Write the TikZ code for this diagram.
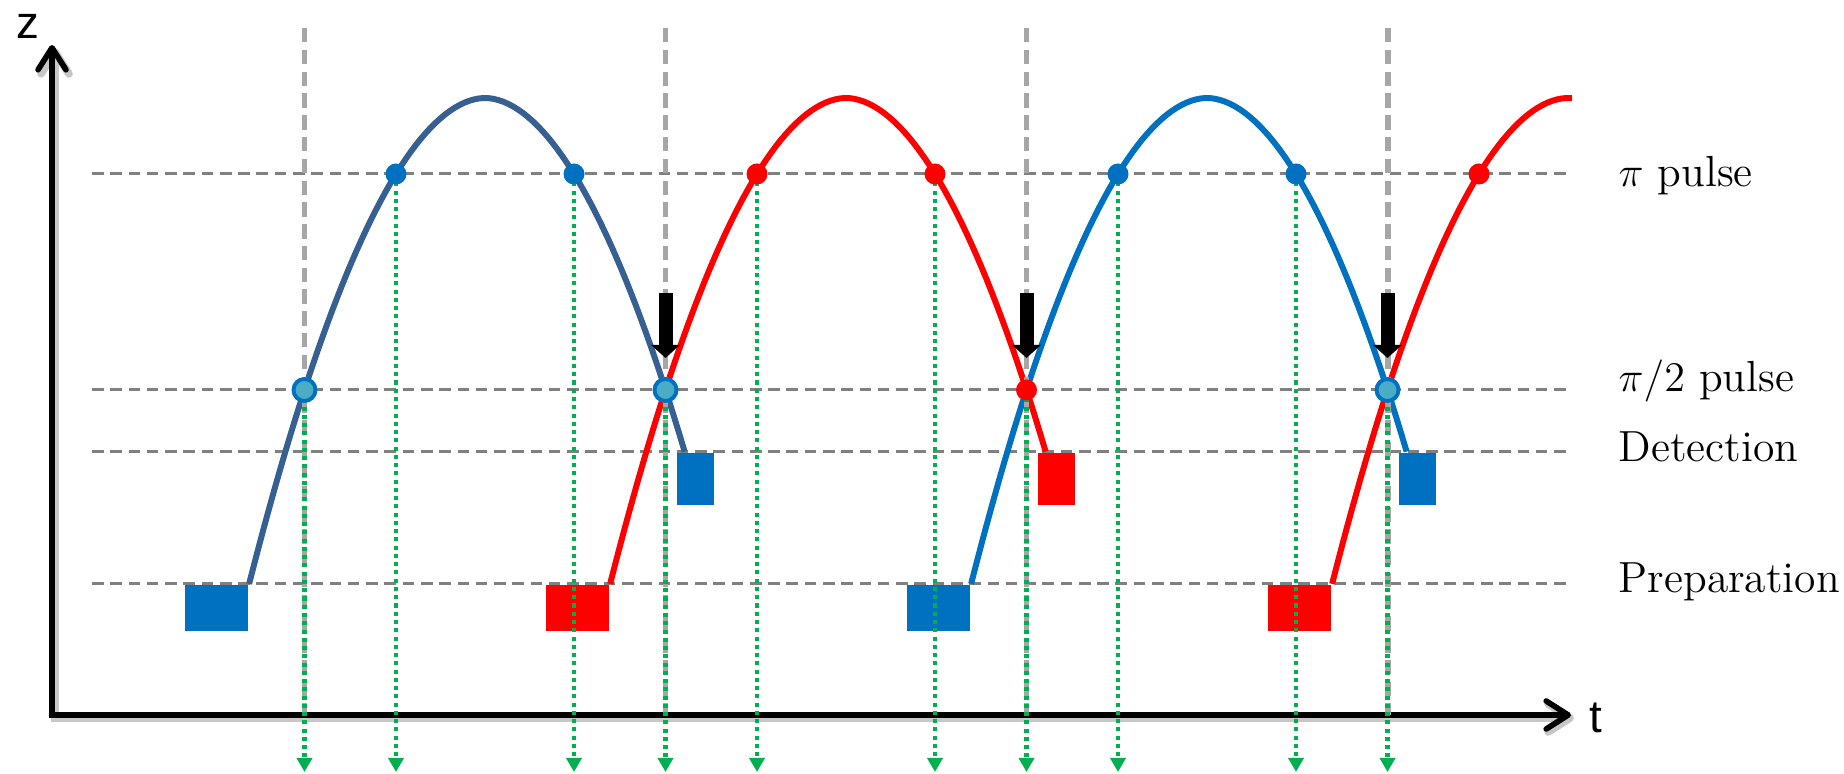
\documentclass[tikz,border=0pt]{standalone}
\usepackage{fontspec}
\newfontfamily\axisfont{Liberation Sans}
\definecolor{darkblue}{RGB}{55,96,146}
\definecolor{midblue}{RGB}{0,112,192}
\definecolor{paleblue}{RGB}{75,172,198}
\definecolor{pulsered}{RGB}{255,0,0}
\definecolor{levelgray}{RGB}{128,128,128}
\definecolor{timegray}{RGB}{166,166,166}
\definecolor{readgreen}{RGB}{0,176,80}
\usetikzlibrary{arrows.meta,calc}
\tikzset{
  level/.style={levelgray,line width=0.85pt,dash pattern=on 3.3pt off 1.9pt},
  tline/.style={timegray,line width=1.7pt,dash pattern=on 4.1pt off 2.1pt},
  rarr/.style={readgreen,line width=1.15pt,dash pattern=on 1.15pt off 1.2pt,
               -{Triangle[width=0.15cm,length=0.14cm]}},
  traj/.style={line width=1.7pt},
  pidot/.style={circle,inner sep=0pt,minimum size=0.21cm},
  halfdot/.style={circle,inner sep=0pt,minimum size=0.22cm,
                  draw=midblue,fill=paleblue,line width=1.1pt},
  prepbox/.style={rectangle,inner sep=0pt,minimum width=0.63cm,
                  minimum height=0.46cm,anchor=north east},
  detbox/.style={rectangle,inner sep=0pt,minimum width=0.37cm,
                 minimum height=0.52cm,anchor=north west},
  kick/.style={line width=0.14cm,-{Triangle[width=0.28cm,length=0.13cm]}},
  axis/.style={line width=1.6pt,
               {Straight Barb[length=0.22cm,width=0.28cm,round]}-{Straight Barb[length=0.22cm,width=0.28cm,round]}},
  axlbl/.style={inner sep=0pt,font=\axisfont\fontsize{13}{15}\selectfont},
  lbl/.style={anchor=base west,inner sep=0pt,font=\fontsize{12.4}{15}\selectfont},
}

\begin{document}
\begin{tikzpicture}
  \useasboundingbox (0,0) rectangle (18.44,7.74);
  \coordinate (O) at (0.52,0.59);
  \coordinate (ztip) at (0.52,7.29);
  \coordinate (ttip) at (15.71,0.59);
  \coordinate (gtop) at (0,7.46);
  \coordinate (gbot) at (0,0.59);
  \coordinate (rbot) at (0,0.02);
  \coordinate (ktop) at (0,4.81);
  \coordinate (kbot) at (0,4.16);

  % axes
  \draw[axis,black!22,line width=2.2pt,transform canvas={shift={(0.03,-0.03)}}] (ztip) -- (O) -- (ttip);
  \draw[axis] (ztip) -- (O) -- (ttip);
  \node[axlbl] (zlab) at (0.275,7.475) {z};
  \node[axlbl] (tlab) at (15.96,0.565) {t};

  % preparation and detection
  \foreach \k/\col in {1/midblue,2/pulsered,3/midblue,4/pulsered}{
    \pgfmathsetmacro\cx{4.85+3.61*(\k-1)}
    \node[prepbox,fill=\col] (prep\k) at ({\cx-2.359},1.90) {};
  }
  \foreach \k/\col in {1/midblue,2/pulsered,3/midblue}{
    \pgfmathsetmacro\cx{4.85+3.61*(\k-1)}
    \node[detbox,fill=\col] (det\k) at ({\cx+1.917},3.22) {};
  }

  % levels
  \foreach \n/\y/\b/\txt in {lpi/6.00/5.87/{$\pi$ pulse},lhalf/3.84/3.82/{$\pi/2$ pulse},
                             ldet/3.22/3.12/Detection,lprep/1.90/1.81/Preparation}{
    \draw[level] (0.92,\y) -- (15.72,\y);
    \node[lbl] (\n) at (16.18,\b) {\txt};
  }

  % trajectories
  \foreach \k/\col in {1/darkblue,2/pulsered,3/midblue}{
    \pgfmathsetmacro\cx{4.85+3.61*(\k-1)}
    \draw[traj,draw=\col] plot[domain=-2.359:1.997,samples=90,variable=\u]
      ({\cx+\u},{6.76-0.76*pow(abs(\u)/0.89+0.0001,1.9035)});
    \coordinate (pl\k) at ({\cx-0.89},6.00);
    \coordinate (pr\k) at ({\cx+0.89},6.00);
    \coordinate (x\k) at ({\cx+1.805},3.84);
  }
  \draw[traj,draw=pulsered] plot[domain=-2.359:0.04,samples=50,variable=\u]
    ({15.68+\u},{6.76-0.76*pow(abs(\u)/0.89+0.0001,1.9035)});
  \coordinate (pl4) at (14.79,6.00);
  \coordinate (x0) at (3.045,3.84);

  \foreach \p in {x0,x1,x2,x3}
    \draw[tline] (\p |- gtop) -- (\p |- gbot);
  \foreach \p in {x0,pl1,pr1,x1,pl2,pr2,x2,pl3,pr3,x3}
    \draw[rarr] (\p) -- (\p |- rbot);

  % pulses
  \node[halfdot] (X0) at (x0) {};
  \node[halfdot] (X1) at (x1) {};
  \node[pidot,fill=pulsered] (X2) at (x2) {};
  \node[halfdot] (X3) at (x3) {};
  \foreach \k/\col in {1/midblue,2/pulsered,3/midblue}{
    \node[pidot,fill=\col] (PL\k) at (pl\k) {};
    \node[pidot,fill=\col] (PR\k) at (pr\k) {};
  }
  \node[pidot,fill=pulsered] (PL4) at (pl4) {};

  \foreach \p in {x1,x2,x3}
    \draw[kick] (\p |- ktop) -- (\p |- kbot);
\end{tikzpicture}
\end{document}
